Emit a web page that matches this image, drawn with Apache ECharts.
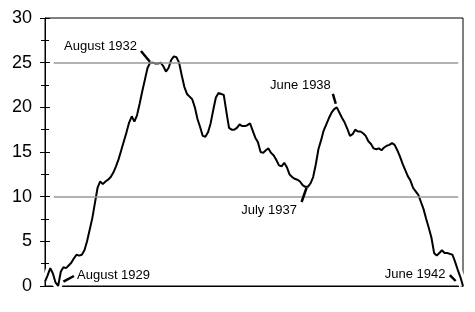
<!DOCTYPE html>
<html>
<head>
<meta charset="utf-8">
<script src="https://cdn.jsdelivr.net/npm/echarts@6/dist/echarts.min.js"></script>
<style>html,body{margin:0;padding:0;background:#fff;}#c{width:475px;height:312px;}</style>
</head>
<body>
<div id="c"></div>
<script>
// Monthly series, March 1929 .. June 1942
const startYear = 1929, startMonth = 2; // March (0-based)
const values = [
 0.5,1.2,2.0,1.4,0.4,0.0,1.6,2.1,2.0,2.3,
 2.6,3.1,3.5,3.4,3.5,4.0,5.0,6.3,7.6,9.3,
 11.0,11.7,11.4,11.7,11.9,12.2,12.7,13.4,14.2,15.2,
 16.2,17.2,18.3,19.0,18.4,19.1,20.4,21.8,23.1,24.4,
 25.0,25.0,24.9,24.9,25.0,24.6,24.0,24.4,25.3,25.7,
 25.6,25.0,23.6,22.3,21.5,21.2,20.9,20.0,18.7,17.8,
 16.8,16.7,17.2,18.2,19.7,21.1,21.6,21.5,21.4,19.5,
 17.7,17.5,17.5,17.7,18.1,17.9,17.9,18.0,18.2,17.4,
 16.6,16.1,15.0,14.9,15.2,15.4,14.9,14.6,14.1,13.5,
 13.4,13.8,13.3,12.5,12.2,12.0,11.9,11.7,11.3,11.1,
 11.1,11.5,12.2,13.6,15.3,16.3,17.4,18.1,18.8,19.4,
 19.8,20.0,19.4,18.8,18.3,17.6,16.8,17.0,17.5,17.3,
 17.3,17.1,16.8,16.2,15.9,15.4,15.3,15.4,15.2,15.5,
 15.7,15.8,16.0,15.8,15.2,14.5,13.7,13.0,12.3,11.8,
 11.0,10.6,10.2,9.4,8.6,7.5,6.5,5.4,3.7,3.4,
 3.7,4.0,3.7,3.7,3.6,3.5,2.7,1.8,1.0,0.0
];
const monthNames = ['January','February','March','April','May','June','July','August','September','October','November','December'];
const categories = values.map((_, i) => {
  const m = startMonth + i;
  return monthNames[m % 12] + ' ' + (startYear + Math.floor(m / 12));
});
const yTicks = [0, 5, 10, 15, 20, 25, 30];
const gridValues = [10, 25];
// annotation texts with anchor (month index, value) and pointer segment
const noteTexts = ['August 1932', 'June 1938', 'July 1937', 'August 1929', 'June 1942'];
const noteAnchors = [[35.4, 26.87], [109.1, 22.5], [96.2, 8.5], [11.8, 1.23], [152.7, 1.34]];
const noteAlign = ['right', 'right', 'right', 'left', 'right'];
const notePointers = [
  [[36.5, 26.3], [39.9, 25.1]],
  [[109.5, 21.5], [110.6, 20.4]],
  [[99.5, 11.0], [97.6, 9.4]],
  [[7.0, 0.48], [11.0, 1.12]],
  [[154.0, 1.23], [156.2, 0.56]]
];

const seriesData = values.map((v, i) => [i, v]);
const font = '"Liberation Sans", Arial, sans-serif';

const chart = echarts.init(document.getElementById('c'), null, {renderer: 'canvas'});
chart.setOption({
  animation: false,
  backgroundColor: '#fff',
  grid: {left: 45, right: 12, top: 18, bottom: 26, show: true, borderColor: '#000', borderWidth: 1, backgroundColor: 'transparent'},
  xAxis: {
    type: 'value', min: 0, max: values.length - 1,
    axisLine: {show: true, lineStyle: {color: '#000', width: 1}},
    axisTick: {show: false}, axisLabel: {show: false}, splitLine: {show: false}
  },
  yAxis: [{
    type: 'value', min: 0, max: 30, interval: 5, position: 'left',
    axisLine: {show: true, lineStyle: {color: '#000', width: 1}},
    axisTick: {show: true, inside: false, length: 5, lineStyle: {color: '#000'}},
    minorTick: {show: true, splitNumber: 2, length: 4, lineStyle: {color: '#000'}},
    axisLabel: {
      margin: 13, color: '#000', fontSize: 18, fontFamily: font,
      formatter: v => yTicks.includes(v) ? String(v) : ''
    },
    splitLine: {show: false}
  }, {
    type: 'value', min: 0, max: 30, interval: 5, position: 'left', offset: 0,
    axisLine: {show: false},
    axisTick: {show: true, inside: true, length: 5, lineStyle: {color: '#000'}},
    minorTick: {show: true, splitNumber: 2, length: 4, lineStyle: {color: '#000'}},
    axisLabel: {show: false},
    splitLine: {show: false}
  }],
  series: [
    {
      type: 'line', data: [], z: 1, silent: true,
      markLine: {
        silent: true, symbol: 'none', animation: false,
        lineStyle: {color: '#9a9a9a', width: 1.5, type: 'solid'},
        label: {show: false},
        data: gridValues.map(g => [{coord: [3.3, g]}, {coord: [157.2, g]}])
      }
    },
    {
      type: 'line', data: seriesData, z: 2, silent: true,
      showSymbol: false, symbol: 'none', smooth: false,
      lineStyle: {color: '#fff', width: 8}
    },
    {
      name: 'series', type: 'line', data: seriesData, z: 3,
      showSymbol: false, symbol: 'none', smooth: false,
      lineStyle: {color: '#000', width: 2},
      markLine: {
        silent: true, symbol: 'none', animation: false,
        lineStyle: {color: '#000', width: 2.5, type: 'solid'},
        label: {show: false},
        data: notePointers.map(p => [{coord: p[0]}, {coord: p[1]}])
      },
      markPoint: {
        silent: true, animation: false, symbol: 'circle', symbolSize: 0,
        data: noteTexts.map((t, k) => ({
          coord: noteAnchors[k],
          label: {
            show: true, position: 'inside', formatter: t,
            align: noteAlign[k], verticalAlign: 'middle',
            color: '#000', fontSize: 13, fontFamily: font,
            backgroundColor: '#fff', padding: [0, 1]
          }
        }))
      }
    }
  ]
});
</script>
</body>
</html>
